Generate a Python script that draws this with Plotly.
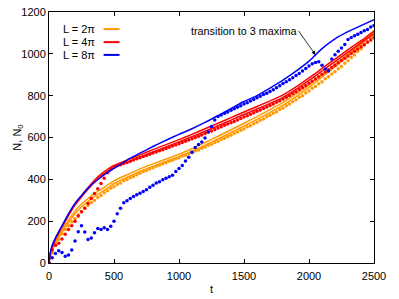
import plotly.graph_objects as go

# ---- solid curves ----
t_line = [0, 10, 25, 50, 75, 100, 150, 200, 250, 300, 350, 400, 450, 500, 600, 700, 800, 900,
          1000, 1100, 1200, 1300, 1400, 1500, 1600, 1700, 1800, 1900, 2000, 2050, 2100, 2200,
          2300, 2400, 2500]

orange_a = [0, 35, 65, 100, 130, 155, 205, 248, 282, 308, 332, 352, 372, 393, 422, 450, 474, 497,
            520, 546, 576, 606, 637, 668, 700, 733, 768, 808, 852, 875, 900, 950, 1000, 1055, 1112]
orange_b = [0, 30, 58, 92, 120, 145, 193, 235, 268, 294, 318, 338, 358, 380, 410, 438, 462, 485,
            508, 534, 563, 593, 624, 655, 687, 720, 755, 795, 840, 863, 888, 938, 990, 1045, 1102]
red_a = [0, 45, 80, 118, 148, 175, 232, 283, 322, 360, 395, 425, 448, 466, 492, 517, 542, 566,
         590, 615, 642, 668, 695, 722, 748, 775, 804, 842, 885, 907, 930, 975, 1020, 1063, 1108]
red_b = [0, 42, 76, 113, 143, 170, 226, 277, 316, 352, 386, 415, 438, 456, 481, 506, 531, 555,
         579, 604, 630, 656, 683, 710, 736, 763, 792, 830, 873, 895, 918, 963, 1008, 1052, 1096]
blue_a = [0, 50, 85, 120, 150, 178, 235, 285, 322, 358, 386, 410, 433, 452, 492, 525, 557, 587,
          615, 642, 672, 705, 738, 772, 800, 836, 874, 917, 965, 995, 1025, 1072, 1106, 1135, 1163]

# ---- dotted data (t every 25) ----
t_dots = list(range(0, 2501, 25))

orange_dots = [0, 48, 85, 113, 140, 160, 178, 196, 211, 230, 245, 263, 275, 289, 299, 313, 323,
               336, 345, 357, 365, 375, 382, 393, 399, 408, 413, 422, 429, 437, 442, 450, 455,
               463, 467, 475, 479, 487, 491, 499, 503, 511, 515, 523, 527, 536, 540, 549, 555,
               563, 568, 576, 582, 591, 596, 605, 611, 620, 626, 635, 641, 651, 656, 666, 673,
               683, 689, 699, 706, 716, 723, 734, 741, 752, 760, 771, 780, 792, 800, 813, 822,
               835, 844, 857, 867, 881, 890, 904, 914, 929, 940, 955, 967, 982, 994, 1011, 1024,
               1041, 1055, 1073, 1087]

red_dots = [0, 62, 85, 95, 115, 138, 160, 178, 200, 225, 245, 262, 285, 308, 332, 355, 380, 405,
            432, 450, 460, 466, 470, 476, 481, 487, 492, 498, 503, 509, 514, 520, 526, 531, 537,
            542, 548, 553, 559, 564, 570, 576, 582, 588, 594, 600, 606, 612, 619, 625, 631, 638,
            645, 651, 658, 664, 671, 677, 684, 691, 698, 704, 711, 718, 725, 732, 739, 746, 753,
            760, 768, 776, 784, 792, 801, 810, 819, 829, 839, 849, 859, 869, 880, 891, 902, 913,
            924, 935, 946, 957, 968, 979, 990, 1001, 1012, 1023, 1034, 1045, 1056, 1066, 1077]

blue_dots = [0, 25, 45, 58, 50, 32, 38, 62, 105, 150, 178, 148, 112, 120, 145, 165, 160, 168,
             160, 176, 200, 235, 262, 288, 298, 308, 318, 326, 334, 342, 350, 362, 372, 382,
             388, 398, 405, 412, 420, 438, 452, 466, 488, 505, 530, 552, 566, 578, 598, 628,
             652, 684, 700, 708, 716, 722, 730, 738, 745, 752, 760, 766, 774, 782, 790, 797,
             805, 812, 820, 828, 838, 848, 858, 866, 876, 886, 896, 906, 918, 930, 942, 952,
             958, 962, 945, 928, 918, 975, 996, 1012, 1028, 1045, 1068, 1078, 1086, 1094, 1102,
             1110, 1116, 1128, 1136]

x_ticks = [0, 500, 1000, 1500, 2000, 2500]
y_ticks = [0, 200, 400, 600, 800, 1000, 1200]
legend_labels = ["L = 2π", "L = 4π", "L = 8π"]

ORANGE = "#FF9A00"
RED = "#FF0000"
BLUE = "#0000FF"
FONT = "Liberation Sans, Arial, sans-serif"
FS = 11

fig = go.Figure()

def add_line(y, color):
    fig.add_trace(go.Scatter(x=t_line, y=y, mode="lines", line=dict(color=color, width=1.5,
                                                                    shape="spline", smoothing=0.6),
                             showlegend=False, hoverinfo="skip"))

def add_dots(y, color):
    fig.add_trace(go.Scatter(x=t_dots, y=y, mode="markers",
                             marker=dict(color=color, size=3.5, line=dict(width=0)),
                             showlegend=False, hoverinfo="skip"))

add_line(orange_a, ORANGE)
add_line(orange_b, ORANGE)
add_dots(orange_dots, ORANGE)
add_line(red_a, RED)
add_line(red_b, RED)
add_dots(red_dots, RED)
add_line(blue_a, BLUE)
add_dots(blue_dots, BLUE)

fig.update_layout(
    width=399, height=299,
    margin=dict(l=49, r=25, t=12, b=36, autoexpand=False),
    paper_bgcolor="white", plot_bgcolor="white",
    font=dict(family=FONT, size=FS, color="black"),
    showlegend=False,
)
fig.update_xaxes(range=[0, 2500], tickvals=x_ticks, ticks="inside", ticklen=4, tickwidth=1,
                 tickcolor="black", mirror="ticks", showline=True, linecolor="black", linewidth=1,
                 showgrid=False, zeroline=False, automargin=False, ticklabelstandoff=3)
fig.update_yaxes(range=[0, 1200], tickvals=y_ticks, ticks="inside", ticklen=4, tickwidth=1,
                 tickcolor="black", mirror="ticks", showline=True, linecolor="black", linewidth=1,
                 showgrid=False, zeroline=False, automargin=False)

# axis titles
fig.add_annotation(x=-0.098, y=0.50, xref="paper", yref="paper", text="N, N<sub>0</sub>",
                   textangle=-90, showarrow=False, xanchor="center", yanchor="middle",
                   font=dict(size=FS))
fig.add_annotation(x=0.5, y=-0.104, xref="paper", yref="paper", text="t",
                   showarrow=False, xanchor="center", yanchor="middle", font=dict(size=FS))

# legend (custom, text left of sample line)
colors = [ORANGE, RED, BLUE]
ys = [0.932, 0.880, 0.829]
for lab, c, yy in zip(legend_labels, colors, ys):
    fig.add_annotation(x=0.149, y=yy, xref="paper", yref="paper", text=lab, showarrow=False,
                       xanchor="right", yanchor="middle", font=dict(size=FS))
    fig.add_shape(type="line", xref="paper", yref="paper", x0=0.168, x1=0.217, y0=yy, y1=yy,
                  line=dict(color=c, width=2))

# annotation with arrow pointing at the kink
fig.add_annotation(x=2050, y=995, ax=-17, ay=-24, text="transition to 3 maxima",
                   showarrow=True, arrowhead=2, arrowsize=1, arrowwidth=0.8,
                   arrowcolor="black", xanchor="right", yanchor="middle",
                   font=dict(size=10.8))

fig.write_html("out.html", post_script="document.body.style.margin='0';",
               config={"displayModeBar": False})
